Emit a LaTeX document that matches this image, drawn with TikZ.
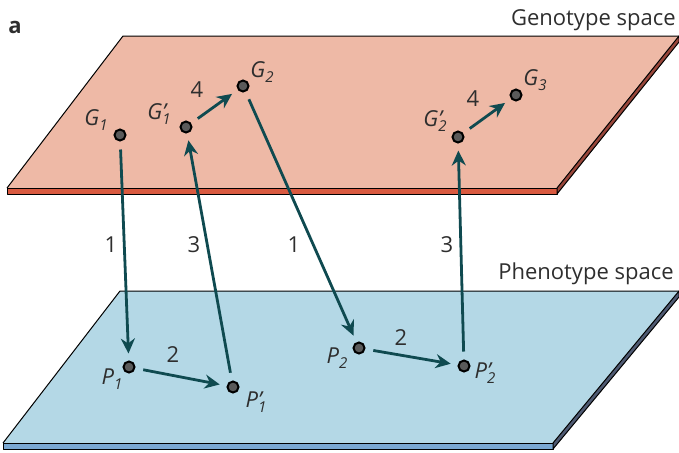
\documentclass[tikz,border=0pt]{standalone}
\usepackage{fontspec}
\setmainfont{Open Sans}
\usetikzlibrary{arrows.meta}

\definecolor{genotop}{HTML}{EEB9A6}
\definecolor{genofront}{HTML}{D95A40}
\definecolor{genoside}{HTML}{98463A}
\definecolor{phenotop}{HTML}{B4D8E6}
\definecolor{phenofront}{HTML}{7AA8D2}
\definecolor{phenoside}{HTML}{4F5A72}
\definecolor{steptail}{HTML}{0F4A50}
\definecolor{dotgrey}{HTML}{5A5A5A}
\definecolor{inkgrey}{HTML}{2E2E2E}

% label with subscript and optional prime stacked over it
\newcommand{\sttlabel}[3]{\textit{#1}\rlap{\textit{#3}}\raisebox{-0.45ex}{\fontsize{7.5}{8}\selectfont\textit{#2}}}

\tikzset{
  dot/.style={circle,draw=black,fill=dotgrey,line width=1pt,inner sep=0pt,minimum size=5.5pt},
  move/.style={draw=steptail,line width=1.4pt,-{Stealth[length=7.5pt,width=7pt]},
    shorten <=4pt,shorten >=3.5pt},
  lbl/.style={font=\fontsize{11}{13}\selectfont,text=inkgrey,inner sep=0pt},
  slab/.style={draw=black,line width=0.5pt,line join=round}
}

\begin{document}
\begin{tikzpicture}[x=0.5pt,y=-0.5pt]
\useasboundingbox (0,0) rectangle (679,452);

% genotype plane
\fill[genotop] (123,36) -- (679,36) -- (557,188) -- (7,188) -- cycle;
\draw[line width=0.5pt] (7,188) -- (123,36) -- (679,36);
\filldraw[slab,fill=genofront] (7,188) rectangle (557,194);
\filldraw[slab,fill=genoside] (557,188) -- (679,36) -- (679,42) -- (557,194) -- cycle;

% phenotype plane
\fill[phenotop] (120,291) -- (679,291) -- (553,443) -- (3,443) -- cycle;
\draw[line width=0.5pt] (3,443) -- (120,291) -- (679,291);
\filldraw[slab,fill=phenofront] (3,443) rectangle (553,449);
\filldraw[slab,fill=phenoside] (553,443) -- (679,291) -- (679,297) -- (553,449) -- cycle;

\node[lbl,font=\fontsize{11}{13}\selectfont\bfseries,anchor=base west] (tag) at (8,33) {a};
\node[lbl,anchor=base east] (genospace) at (676,25) {Genotype space};
\node[lbl,anchor=base east] (phenospace) at (674,279) {Phenotype space};

% points
\node[dot] (g1) at (120,135) {};
\node[dot] (g1p) at (186,127) {};
\node[dot] (g2) at (243,86) {};
\node[dot] (g2p) at (458,137) {};
\node[dot] (g3) at (516,95) {};
\node[dot] (p1) at (129,367) {};
\node[dot] (p1p) at (233,387) {};
\node[dot] (p2) at (359,348) {};
\node[dot] (p2p) at (464,366) {};

\node[lbl] (g1lbl) at (96,120) {\sttlabel{G}{1}{}};
\node[lbl] (g1plbl) at (159,114) {\sttlabel{G}{1}{'}};
\node[lbl] (g2lbl) at (262,72) {\sttlabel{G}{2}{}};
\node[lbl] (g2plbl) at (435,121) {\sttlabel{G}{2}{'}};
\node[lbl] (g3lbl) at (535,80) {\sttlabel{G}{3}{}};
\node[lbl] (p1lbl) at (112,379) {\sttlabel{P}{1}{}};
\node[lbl] (p1plbl) at (256,402) {\sttlabel{P}{1}{'}};
\node[lbl] (p2lbl) at (337,358) {\sttlabel{P}{2}{}};
\node[lbl] (p2plbl) at (485,373) {\sttlabel{P}{2}{'}};

% steps
\draw[move] (g1) -- (p1);
\draw[move] (p1) -- (p1p);
\draw[move] (p1p) -- (g1p);
\draw[move] (g1p) -- (g2);
\draw[move] (g2) -- (p2);
\draw[move] (p2) -- (p2p);
\draw[move] (p2p) -- (g2p);
\draw[move] (g2p) -- (g3);

\node[lbl] (n1a) at (111,245) {1};
\node[lbl] (n2a) at (173,355) {2};
\node[lbl] (n3a) at (194,245) {3};
\node[lbl] (n4a) at (197,90) {4};
\node[lbl] (n1b) at (294,245) {1};
\node[lbl] (n2b) at (401,338) {2};
\node[lbl] (n3b) at (447,245) {3};
\node[lbl] (n4b) at (473,99) {4};
\end{tikzpicture}
\end{document}
